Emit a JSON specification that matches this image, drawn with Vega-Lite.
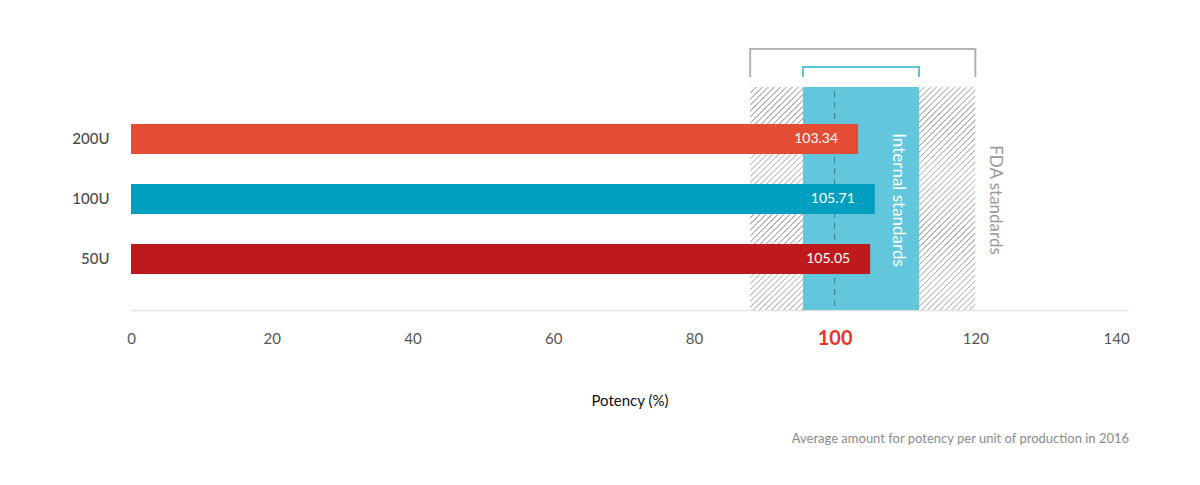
{
  "$schema": "https://vega.github.io/schema/vega-lite/v6.json",
  "width": 997,
  "height": 270,
  "autosize": "none",
  "padding": {"left": 131, "top": 40, "right": 72, "bottom": 175},
  "config": {
    "view": {"stroke": null},
    "font": "Lato",
    "title": {"font": "Lato"}
  },
  "title": {
    "text": "Average amount for potency per unit of production in 2016",
    "orient": "bottom",
    "anchor": "end",
    "fontSize": 13,
    "fontWeight": "normal",
    "color": "#8a8a8a",
    "offset": 25
  },
  "datasets": {
    "bars": [
      {"dose": "200U", "potency": 103.34},
      {"dose": "100U", "potency": 105.71},
      {"dose": "50U", "potency": 105.05}
    ],
    "ranges": [
      {"standard": "FDA standards", "lo": 88, "hi": 120},
      {"standard": "Internal standards", "lo": 95.5, "hi": 112}
    ]
  },
  "resolve": {"scale": {"y": "independent"}},
  "layer": [
    {
      "data": {"name": "ranges"},
      "layer": [
        {
          "transform": [{"filter": "datum.standard == 'FDA standards'"}],
          "mark": {
            "type": "rect",
            "fill": {
              "gradient": "linear", "x1": 0, "y1": 0, "x2": 1, "y2": 1,
              "stops": [
                {"offset":0,"color":"#a0a0a0"},{"offset":0.004,"color":"#fff"},{"offset":0.0121,"color":"#fff"},
                {"offset":0.0133,"color":"#a0a0a0"},{"offset":0.0173,"color":"#fff"},{"offset":0.0254,"color":"#fff"},
                {"offset":0.0267,"color":"#a0a0a0"},{"offset":0.0307,"color":"#fff"},{"offset":0.0388,"color":"#fff"},
                {"offset":0.04,"color":"#a0a0a0"},{"offset":0.044,"color":"#fff"},{"offset":0.0521,"color":"#fff"},
                {"offset":0.0533,"color":"#a0a0a0"},{"offset":0.0573,"color":"#fff"},{"offset":0.0654,"color":"#fff"},
                {"offset":0.0667,"color":"#a0a0a0"},{"offset":0.0707,"color":"#fff"},{"offset":0.0788,"color":"#fff"},
                {"offset":0.08,"color":"#a0a0a0"},{"offset":0.084,"color":"#fff"},{"offset":0.0921,"color":"#fff"},
                {"offset":0.0933,"color":"#a0a0a0"},{"offset":0.0973,"color":"#fff"},{"offset":0.1054,"color":"#fff"},
                {"offset":0.1067,"color":"#a0a0a0"},{"offset":0.1107,"color":"#fff"},{"offset":0.1188,"color":"#fff"},
                {"offset":0.12,"color":"#a0a0a0"},{"offset":0.124,"color":"#fff"},{"offset":0.1321,"color":"#fff"},
                {"offset":0.1333,"color":"#a0a0a0"},{"offset":0.1373,"color":"#fff"},{"offset":0.1454,"color":"#fff"},
                {"offset":0.1467,"color":"#a0a0a0"},{"offset":0.1507,"color":"#fff"},{"offset":0.1588,"color":"#fff"},
                {"offset":0.16,"color":"#a0a0a0"},{"offset":0.164,"color":"#fff"},{"offset":0.1721,"color":"#fff"},
                {"offset":0.1733,"color":"#a0a0a0"},{"offset":0.1773,"color":"#fff"},{"offset":0.1854,"color":"#fff"},
                {"offset":0.1867,"color":"#a0a0a0"},{"offset":0.1907,"color":"#fff"},{"offset":0.1988,"color":"#fff"},
                {"offset":0.2,"color":"#a0a0a0"},{"offset":0.204,"color":"#fff"},{"offset":0.2121,"color":"#fff"},
                {"offset":0.2133,"color":"#a0a0a0"},{"offset":0.2173,"color":"#fff"},{"offset":0.2254,"color":"#fff"},
                {"offset":0.2267,"color":"#a0a0a0"},{"offset":0.2307,"color":"#fff"},{"offset":0.2388,"color":"#fff"},
                {"offset":0.24,"color":"#a0a0a0"},{"offset":0.244,"color":"#fff"},{"offset":0.2521,"color":"#fff"},
                {"offset":0.2533,"color":"#a0a0a0"},{"offset":0.2573,"color":"#fff"},{"offset":0.2654,"color":"#fff"},
                {"offset":0.2667,"color":"#a0a0a0"},{"offset":0.2707,"color":"#fff"},{"offset":0.2788,"color":"#fff"},
                {"offset":0.28,"color":"#a0a0a0"},{"offset":0.284,"color":"#fff"},{"offset":0.2921,"color":"#fff"},
                {"offset":0.2933,"color":"#a0a0a0"},{"offset":0.2973,"color":"#fff"},{"offset":0.3054,"color":"#fff"},
                {"offset":0.3067,"color":"#a0a0a0"},{"offset":0.3107,"color":"#fff"},{"offset":0.3188,"color":"#fff"},
                {"offset":0.32,"color":"#a0a0a0"},{"offset":0.324,"color":"#fff"},{"offset":0.3321,"color":"#fff"},
                {"offset":0.3333,"color":"#a0a0a0"},{"offset":0.3373,"color":"#fff"},{"offset":0.3454,"color":"#fff"},
                {"offset":0.3467,"color":"#a0a0a0"},{"offset":0.3507,"color":"#fff"},{"offset":0.3588,"color":"#fff"},
                {"offset":0.36,"color":"#a0a0a0"},{"offset":0.364,"color":"#fff"},{"offset":0.3721,"color":"#fff"},
                {"offset":0.3733,"color":"#a0a0a0"},{"offset":0.3773,"color":"#fff"},{"offset":0.3854,"color":"#fff"},
                {"offset":0.3867,"color":"#a0a0a0"},{"offset":0.3907,"color":"#fff"},{"offset":0.3988,"color":"#fff"},
                {"offset":0.4,"color":"#a0a0a0"},{"offset":0.404,"color":"#fff"},{"offset":0.4121,"color":"#fff"},
                {"offset":0.4133,"color":"#a0a0a0"},{"offset":0.4173,"color":"#fff"},{"offset":0.4254,"color":"#fff"},
                {"offset":0.4267,"color":"#a0a0a0"},{"offset":0.4307,"color":"#fff"},{"offset":0.4388,"color":"#fff"},
                {"offset":0.44,"color":"#a0a0a0"},{"offset":0.444,"color":"#fff"},{"offset":0.4521,"color":"#fff"},
                {"offset":0.4533,"color":"#a0a0a0"},{"offset":0.4573,"color":"#fff"},{"offset":0.4654,"color":"#fff"},
                {"offset":0.4667,"color":"#a0a0a0"},{"offset":0.4707,"color":"#fff"},{"offset":0.4788,"color":"#fff"},
                {"offset":0.48,"color":"#a0a0a0"},{"offset":0.484,"color":"#fff"},{"offset":0.4921,"color":"#fff"},
                {"offset":0.4933,"color":"#a0a0a0"},{"offset":0.4973,"color":"#fff"},{"offset":0.5054,"color":"#fff"},
                {"offset":0.5067,"color":"#a0a0a0"},{"offset":0.5107,"color":"#fff"},{"offset":0.5188,"color":"#fff"},
                {"offset":0.52,"color":"#a0a0a0"},{"offset":0.524,"color":"#fff"},{"offset":0.5321,"color":"#fff"},
                {"offset":0.5333,"color":"#a0a0a0"},{"offset":0.5373,"color":"#fff"},{"offset":0.5454,"color":"#fff"},
                {"offset":0.5467,"color":"#a0a0a0"},{"offset":0.5507,"color":"#fff"},{"offset":0.5588,"color":"#fff"},
                {"offset":0.56,"color":"#a0a0a0"},{"offset":0.564,"color":"#fff"},{"offset":0.5721,"color":"#fff"},
                {"offset":0.5733,"color":"#a0a0a0"},{"offset":0.5773,"color":"#fff"},{"offset":0.5854,"color":"#fff"},
                {"offset":0.5867,"color":"#a0a0a0"},{"offset":0.5907,"color":"#fff"},{"offset":0.5988,"color":"#fff"},
                {"offset":0.6,"color":"#a0a0a0"},{"offset":0.604,"color":"#fff"},{"offset":0.6121,"color":"#fff"},
                {"offset":0.6133,"color":"#a0a0a0"},{"offset":0.6173,"color":"#fff"},{"offset":0.6254,"color":"#fff"},
                {"offset":0.6267,"color":"#a0a0a0"},{"offset":0.6307,"color":"#fff"},{"offset":0.6388,"color":"#fff"},
                {"offset":0.64,"color":"#a0a0a0"},{"offset":0.644,"color":"#fff"},{"offset":0.6521,"color":"#fff"},
                {"offset":0.6533,"color":"#a0a0a0"},{"offset":0.6573,"color":"#fff"},{"offset":0.6654,"color":"#fff"},
                {"offset":0.6667,"color":"#a0a0a0"},{"offset":0.6707,"color":"#fff"},{"offset":0.6788,"color":"#fff"},
                {"offset":0.68,"color":"#a0a0a0"},{"offset":0.684,"color":"#fff"},{"offset":0.6921,"color":"#fff"},
                {"offset":0.6933,"color":"#a0a0a0"},{"offset":0.6973,"color":"#fff"},{"offset":0.7054,"color":"#fff"},
                {"offset":0.7067,"color":"#a0a0a0"},{"offset":0.7107,"color":"#fff"},{"offset":0.7188,"color":"#fff"},
                {"offset":0.72,"color":"#a0a0a0"},{"offset":0.724,"color":"#fff"},{"offset":0.7321,"color":"#fff"},
                {"offset":0.7333,"color":"#a0a0a0"},{"offset":0.7373,"color":"#fff"},{"offset":0.7454,"color":"#fff"},
                {"offset":0.7467,"color":"#a0a0a0"},{"offset":0.7507,"color":"#fff"},{"offset":0.7588,"color":"#fff"},
                {"offset":0.76,"color":"#a0a0a0"},{"offset":0.764,"color":"#fff"},{"offset":0.7721,"color":"#fff"},
                {"offset":0.7733,"color":"#a0a0a0"},{"offset":0.7773,"color":"#fff"},{"offset":0.7854,"color":"#fff"},
                {"offset":0.7867,"color":"#a0a0a0"},{"offset":0.7907,"color":"#fff"},{"offset":0.7988,"color":"#fff"},
                {"offset":0.8,"color":"#a0a0a0"},{"offset":0.804,"color":"#fff"},{"offset":0.8121,"color":"#fff"},
                {"offset":0.8133,"color":"#a0a0a0"},{"offset":0.8173,"color":"#fff"},{"offset":0.8254,"color":"#fff"},
                {"offset":0.8267,"color":"#a0a0a0"},{"offset":0.8307,"color":"#fff"},{"offset":0.8388,"color":"#fff"},
                {"offset":0.84,"color":"#a0a0a0"},{"offset":0.844,"color":"#fff"},{"offset":0.8521,"color":"#fff"},
                {"offset":0.8533,"color":"#a0a0a0"},{"offset":0.8573,"color":"#fff"},{"offset":0.8654,"color":"#fff"},
                {"offset":0.8667,"color":"#a0a0a0"},{"offset":0.8707,"color":"#fff"},{"offset":0.8788,"color":"#fff"},
                {"offset":0.88,"color":"#a0a0a0"},{"offset":0.884,"color":"#fff"},{"offset":0.8921,"color":"#fff"},
                {"offset":0.8933,"color":"#a0a0a0"},{"offset":0.8973,"color":"#fff"},{"offset":0.9054,"color":"#fff"},
                {"offset":0.9067,"color":"#a0a0a0"},{"offset":0.9107,"color":"#fff"},{"offset":0.9188,"color":"#fff"},
                {"offset":0.92,"color":"#a0a0a0"},{"offset":0.924,"color":"#fff"},{"offset":0.9321,"color":"#fff"},
                {"offset":0.9333,"color":"#a0a0a0"},{"offset":0.9373,"color":"#fff"},{"offset":0.9454,"color":"#fff"},
                {"offset":0.9467,"color":"#a0a0a0"},{"offset":0.9507,"color":"#fff"},{"offset":0.9588,"color":"#fff"},
                {"offset":0.96,"color":"#a0a0a0"},{"offset":0.964,"color":"#fff"},{"offset":0.9721,"color":"#fff"},
                {"offset":0.9733,"color":"#a0a0a0"},{"offset":0.9773,"color":"#fff"},{"offset":0.9854,"color":"#fff"},
                {"offset":0.9867,"color":"#a0a0a0"},{"offset":0.9907,"color":"#fff"},{"offset":1,"color":"#fff"}
              ]
            }
          },
          "encoding": {
            "x": {"field": "lo", "type": "quantitative", "scale": {"domain": [0, 141.7], "nice": false, "zero": false},
              "axis": {
                "values": [0, 20, 40, 60, 80, 100, 120, 140],
                "title": "Potency (%)",
                "titleFontSize": 15,
                "titleFontWeight": "normal",
                "titleColor": "#111",
                "titlePadding": 45,
                "labelFontSize": {"condition": {"test": "datum.value == 100", "value": 20}, "value": 15},
                "labelFontWeight": {"condition": {"test": "datum.value == 100", "value": "bold"}, "value": "normal"},
                "labelColor": {"condition": {"test": "datum.value == 100", "value": "#e8352b"}, "value": "#555555"},
                "labelPadding": 28,
                "labelBaseline": "middle",
                "ticks": false,
                "grid": false,
                "domainColor": "#e3e3e3",
                "domainWidth": 1.5,
                "labelFlush": false
              }
            },
            "x2": {"field": "hi"},
            "y": {"datum": 0, "type": "quantitative", "scale": {"domain": [0, 270], "nice": false}, "axis": null},
            "y2": {"datum": 223}
          }
        },
        {
          "transform": [{"filter": "datum.standard == 'Internal standards'"}],
          "mark": {"type": "rect", "fill": "#62c6dc"},
          "encoding": {
            "x": {"field": "lo", "type": "quantitative", "scale": {"domain": [0, 141.7], "nice": false, "zero": false}},
            "x2": {"field": "hi"},
            "y": {"datum": 0, "type": "quantitative", "scale": {"domain": [0, 270], "nice": false}, "axis": null},
            "y2": {"datum": 223}
          }
        },
        {
          "transform": [{"filter": "datum.standard == 'Internal standards'"}],
          "mark": {"type": "rule", "color": "#3e7f8e", "strokeDash": [6, 5], "strokeWidth": 1},
          "encoding": {
            "x": {"datum": 100, "type": "quantitative", "scale": {"domain": [0, 141.7], "nice": false, "zero": false}},
            "y": {"datum": 4, "type": "quantitative", "scale": {"domain": [0, 270], "nice": false}, "axis": null},
            "y2": {"datum": 223}
          }
        },
        {
          "transform": [{"filter": "datum.standard == 'FDA standards'"}],
          "mark": {"type": "rule", "color": "#b3b3b3", "strokeWidth": 2, "strokeCap": "square"},
          "encoding": {
            "x": {"field": "lo", "type": "quantitative", "scale": {"domain": [0, 141.7], "nice": false, "zero": false}},
            "x2": {"field": "hi"},
            "y": {"datum": 261, "type": "quantitative", "scale": {"domain": [0, 270], "nice": false}, "axis": null}
          }
        },
        {
          "transform": [{"filter": "datum.standard == 'FDA standards'"}],
          "mark": {"type": "rule", "color": "#b3b3b3", "strokeWidth": 2, "strokeCap": "square"},
          "encoding": {
            "x": {"field": "lo", "type": "quantitative", "scale": {"domain": [0, 141.7], "nice": false, "zero": false}},
            "y": {"datum": 261, "type": "quantitative", "scale": {"domain": [0, 270], "nice": false}, "axis": null},
            "y2": {"datum": 234}
          }
        },
        {
          "transform": [{"filter": "datum.standard == 'FDA standards'"}],
          "mark": {"type": "rule", "color": "#b3b3b3", "strokeWidth": 2, "strokeCap": "square"},
          "encoding": {
            "x": {"field": "hi", "type": "quantitative", "scale": {"domain": [0, 141.7], "nice": false, "zero": false}},
            "y": {"datum": 261, "type": "quantitative", "scale": {"domain": [0, 270], "nice": false}, "axis": null},
            "y2": {"datum": 234}
          }
        },
        {
          "transform": [{"filter": "datum.standard == 'Internal standards'"}],
          "mark": {"type": "rule", "color": "#5bc4da", "strokeWidth": 2, "strokeCap": "square"},
          "encoding": {
            "x": {"field": "lo", "type": "quantitative", "scale": {"domain": [0, 141.7], "nice": false, "zero": false}},
            "x2": {"field": "hi"},
            "y": {"datum": 243, "type": "quantitative", "scale": {"domain": [0, 270], "nice": false}, "axis": null}
          }
        },
        {
          "transform": [{"filter": "datum.standard == 'Internal standards'"}],
          "mark": {"type": "rule", "color": "#5bc4da", "strokeWidth": 2, "strokeCap": "square"},
          "encoding": {
            "x": {"field": "lo", "type": "quantitative", "scale": {"domain": [0, 141.7], "nice": false, "zero": false}},
            "y": {"datum": 243, "type": "quantitative", "scale": {"domain": [0, 270], "nice": false}, "axis": null},
            "y2": {"datum": 234}
          }
        },
        {
          "transform": [{"filter": "datum.standard == 'Internal standards'"}],
          "mark": {"type": "rule", "color": "#5bc4da", "strokeWidth": 2, "strokeCap": "square"},
          "encoding": {
            "x": {"field": "hi", "type": "quantitative", "scale": {"domain": [0, 141.7], "nice": false, "zero": false}},
            "y": {"datum": 243, "type": "quantitative", "scale": {"domain": [0, 270], "nice": false}, "axis": null},
            "y2": {"datum": 234}
          }
        },
        {
          "transform": [{"filter": "datum.standard == 'Internal standards'"}],
          "mark": {"type": "text", "angle": 90, "align": "center", "baseline": "middle", "fontSize": 17, "color": "#ffffff"},
          "encoding": {
            "text": {"field": "standard"},
            "x": {"datum": 109, "type": "quantitative", "scale": {"domain": [0, 141.7], "nice": false, "zero": false}},
            "y": {"datum": 110, "type": "quantitative", "scale": {"domain": [0, 270], "nice": false}, "axis": null}
          }
        },
        {
          "transform": [{"filter": "datum.standard == 'FDA standards'"}],
          "mark": {"type": "text", "angle": 90, "align": "center", "baseline": "middle", "fontSize": 17, "color": "#9a9a9a"},
          "encoding": {
            "text": {"field": "standard"},
            "x": {"datum": 122.8, "type": "quantitative", "scale": {"domain": [0, 141.7], "nice": false, "zero": false}},
            "y": {"datum": 110, "type": "quantitative", "scale": {"domain": [0, 270], "nice": false}, "axis": null}
          }
        }
      ]
    },
    {
      "data": {"name": "bars"},
      "encoding": {
        "y": {
          "field": "dose", "type": "nominal", "sort": ["200U", "100U", "50U"],
          "scale": {"domain": ["200U", "100U", "50U"], "paddingInner": 0.5, "paddingOuter": 1, "align": 0.7},
          "axis": {"title": null, "ticks": false, "domain": false, "labelPadding": 22, "labelFontSize": 15, "labelColor": "#4a4a4a", "labelFontWeight": 500}
        }
      },
      "layer": [
        {
          "mark": {"type": "bar"},
          "encoding": {
            "x": {"field": "potency", "type": "quantitative", "scale": {"domain": [0, 141.7], "nice": false, "zero": false}},
            "color": {"field": "dose", "type": "nominal", "scale": {"domain": ["200U", "100U", "50U"], "range": ["#e44c33", "#009fc0", "#be191c"]}, "legend": null}
          }
        },
        {
          "mark": {"type": "text", "align": "right", "baseline": "middle", "dx": -20, "fontSize": 14, "color": "#ffffff"},
          "encoding": {
            "x": {"field": "potency", "type": "quantitative", "scale": {"domain": [0, 141.7], "nice": false, "zero": false}},
            "text": {"field": "potency", "type": "quantitative", "format": ".2f"}
          }
        }
      ]
    }
  ]
}
